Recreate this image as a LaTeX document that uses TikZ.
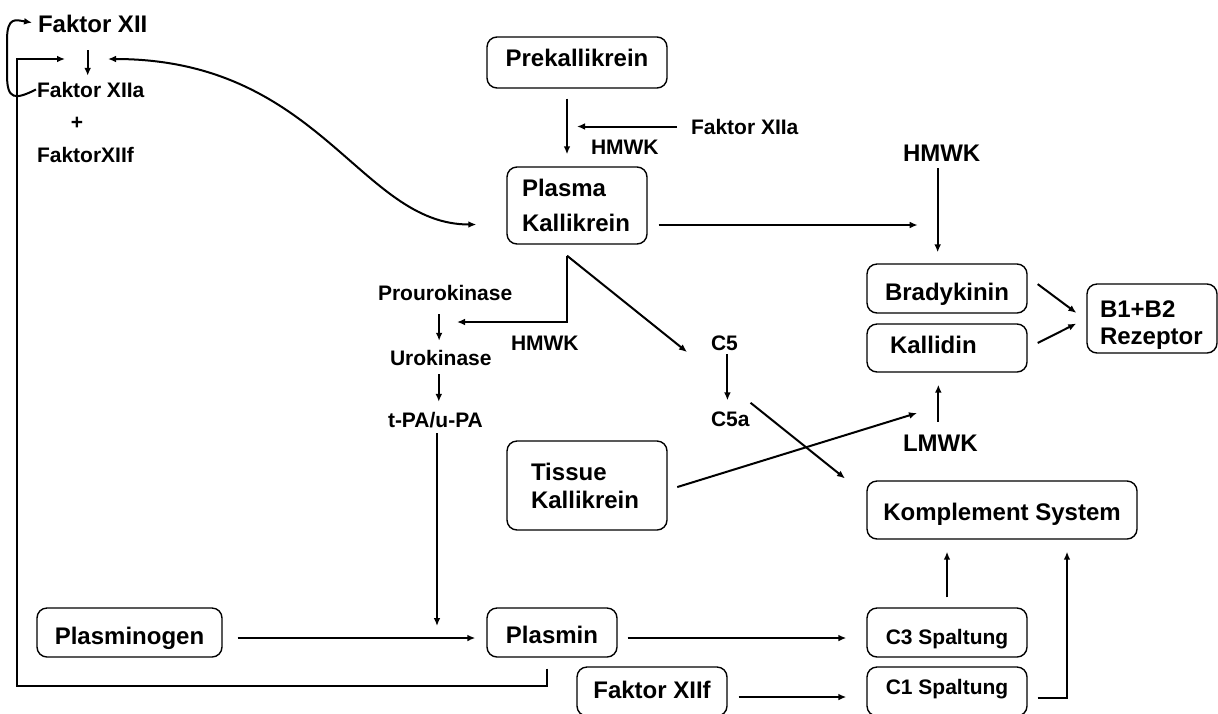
\documentclass[tikz,border=0pt]{standalone}
\usepackage{fontspec}
\setmainfont{Liberation Sans}
\usepackage{tikz}
\usetikzlibrary{arrows.meta}
\newcommand\gross[1][14]{\fontsize{12}{#1}\selectfont\bfseries}
\newcommand\klein{\fontsize{10.5}{12.5}\selectfont\bfseries}
\tikzset{
  box/.style={draw,rounded corners=5pt,line width=0.7pt,inner sep=0pt},
  one/.style={box,font=\gross,text depth=0pt,text height=12.1pt},
  two/.style={box,align=left,inner ysep=0pt},
  lbl/.style={inner sep=0pt,anchor=base west}
}
\begin{document}
\begin{tikzpicture}[x=0.5pt,y=-0.5pt,>={Latex[length=4pt,width=3.4pt]},line width=1pt]
\useasboundingbox (0,0) rectangle (1218,713);
\node[lbl,font=\gross] (fxii) at (37,32) {Faktor XII};
\node[lbl,font=\klein] (fxiia) at (36,97) {Faktor XIIa};
\node[inner sep=0pt,font=\klein] (plus) at (77,123) {+};
\node[lbl,font=\klein] (fxiif) at (36,162) {FaktorXIIf};
\node[one,minimum width=90pt,minimum height=25.5pt,text height=3.6pt] (prekal) at (577,62.5) {Prekallikrein};
\node[lbl,font=\klein] (fxiia2) at (690,134) {Faktor XIIa};
\node[lbl,font=\klein] (hmwka) at (590,154) {HMWK};
\node[two,text width=55pt,inner xsep=7.5pt,minimum height=38.5pt,font={\gross[17.5]}] (plasmakal) at (577,205.5) {Plasma\\Kallikrein};
\node[lbl,font=\gross] (hmwkb) at (902,161) {HMWK};
\node[one,minimum width=80pt,minimum height=24.5pt] (brady) at (947,288.5) {Bradykinin};
\node[one,minimum width=80pt,minimum height=24pt,text width=57pt,inner xsep=11.5pt,align=left,text height=5.3pt] (kallidin) at (947,348) {Kallidin};
\node[two,text width=52pt,inner xsep=6.5pt,minimum height=34.5pt,font={\gross[13.5]}] (rezeptor) at (1152,318.5) {\rule{0pt}{14.5pt}B1+B2\\Rezeptor};
\node[lbl,font=\gross] (lmwk) at (902,451) {LMWK};
\node[lbl,font=\klein] (prouro) at (377,300) {Prourokinase};
\node[lbl,font=\klein] (uro) at (389,365) {Urokinase};
\node[lbl,font=\klein] (tpa) at (387,427) {t-PA/u-PA};
\node[lbl,font=\klein] (hmwkc) at (510,350) {HMWK};
\node[lbl,font=\klein] (c5) at (710,350) {C5};
\node[lbl,font=\klein] (c5a) at (710,426) {C5a};
\node[two,text width=56pt,inner xsep=12pt,minimum height=44.5pt,font={\gross[14]}] (tissue) at (587,485.5) {Tissue\\Kallikrein};
\node[one,minimum width=135pt,minimum height=29pt,text height=10.6pt] (kompl) at (1002,510) {Komplement System};
\node[one,minimum width=92.5pt,minimum height=24.5pt] (plasminogen) at (129.5,632.5) {Plasminogen};
\node[one,minimum width=65pt,minimum height=24.5pt,text height=11.1pt] (plasmin) at (552,632.5) {Plasmin};
\node[one,minimum width=80pt,minimum height=24.5pt,font=\klein,text height=11.5pt] (c3) at (947,632.5) {C3 Spaltung};
\node[one,minimum width=80pt,minimum height=24.5pt,font=\klein,text height=3pt] (c1) at (947,691.5) {C1 Spaltung};
\node[one,minimum width=75pt,minimum height=24.5pt,text height=6.6pt] (fxiifbox) at (652,691.5) {Faktor XIIf};
\coordinate (loopend) at (65,59);
\coordinate (kalend) at (108,59);
\coordinate (tisend) at (917,413);
\coordinate (urokend) at (457,322);
\coordinate (c5in) at (687,352);
\coordinate (tpaend) at (437,626);
\draw[->,shorten <=8.5pt,shorten >=2.5pt] ([xshift=-2.5pt]fxii.south) -- ([xshift=-2.5pt]fxii.south |- fxiia.north);
\draw[->,shorten >=2.5pt] (fxiia.west) .. controls (15,100) and (7,100) .. (7,75) -- (7,40) .. controls (7,16) and (16,20) .. (fxii.west);
\draw[->,shorten <=5.5pt] ([xshift=-2.5pt]plasmin.south) |- (17,686) |- (loopend);
\draw[<->,shorten >=15pt] (kalend) .. controls (320,59) and (360,224.5) .. ([yshift=-9.5pt]plasmakal.west);
\draw[->,shorten <=5pt,shorten >=6pt] ([xshift=-5pt]prekal.south) -- ([xshift=-5pt]plasmakal.north);
\draw[->,shorten <=6.5pt] (fxiia2.west) -- (fxiia2.west -| prekal.south);
\draw[->,shorten <=5.5pt,shorten >=12pt] ([yshift=-9.75pt]plasmakal.east) -- ([yshift=-9.75pt]plasmakal.east -| hmwkb.south);
\draw[->,shorten <=3pt,shorten >=5.5pt] ([xshift=-2pt]hmwkb.south) -- ([xshift=-2pt]hmwkb.south |- brady.north);
\draw[->,shorten <=6.2pt,shorten >=6.2pt] ([yshift=5.9pt]brady.east) -- ([yshift=-0.9pt]rezeptor.west);
\draw[->,shorten <=5.6pt,shorten >=5.6pt] (kallidin.east) -- (rezeptor.west);
\draw[->,shorten <=6pt,shorten >=6pt] ([xshift=-1pt]lmwk.north) -- ([xshift=-1pt]lmwk.north |- kallidin.south);
\draw[->,shorten <=5pt] ([yshift=-2.25pt]tissue.east) -- (tisend);
\draw[->] ([xshift=-5pt,yshift=-5.5pt]plasmakal.south) |- (urokend);
\draw[->] ([xshift=-5pt,yshift=-5.5pt]plasmakal.south) -- (c5in);
\draw[->,shorten <=6.5pt,shorten >=4pt] ([xshift=-3pt]prouro.south) -- ([xshift=-3pt]prouro.south |- uro.north);
\draw[->,shorten <=4pt,shorten >=4.5pt] ([xshift=-1pt]uro.south) -- ([xshift=-1pt]uro.south |- tpa.north);
\draw[->,shorten <=2.5pt] (tpa.south -| tpaend) -- (tpaend);
\draw[->,shorten <=7.5pt,shorten >=5.5pt] ([yshift=-2.75pt]plasminogen.east) -- ([yshift=-2.75pt]plasmin.west);
\draw[->,shorten <=5pt,shorten >=10pt] ([yshift=-2.75pt]plasmin.east) -- ([yshift=-2.75pt]c3.west);
\draw[->,shorten <=5.5pt,shorten >=10pt] ([yshift=-2.75pt]fxiifbox.east) -- ([yshift=-2.75pt]c1.west);
\draw[->,shorten <=5pt,shorten >=6pt] (c3.north) -- (c3.north |- kompl.south);
\draw[->,shorten <=5pt,shorten >=6pt] ([yshift=-3pt]c1.east) -| ([xshift=32.5pt]kompl.south);
\draw[->,shorten <=1.5pt,shorten >=5pt] ([xshift=1.5pt]c5.south) -- ([xshift=1.5pt]c5.south |- c5a.north);
\draw[->,shorten >=1.5pt] ([yshift=8pt]c5a.east) -- ([xshift=-9.5pt]kompl.north west);
\end{tikzpicture}
\end{document}
